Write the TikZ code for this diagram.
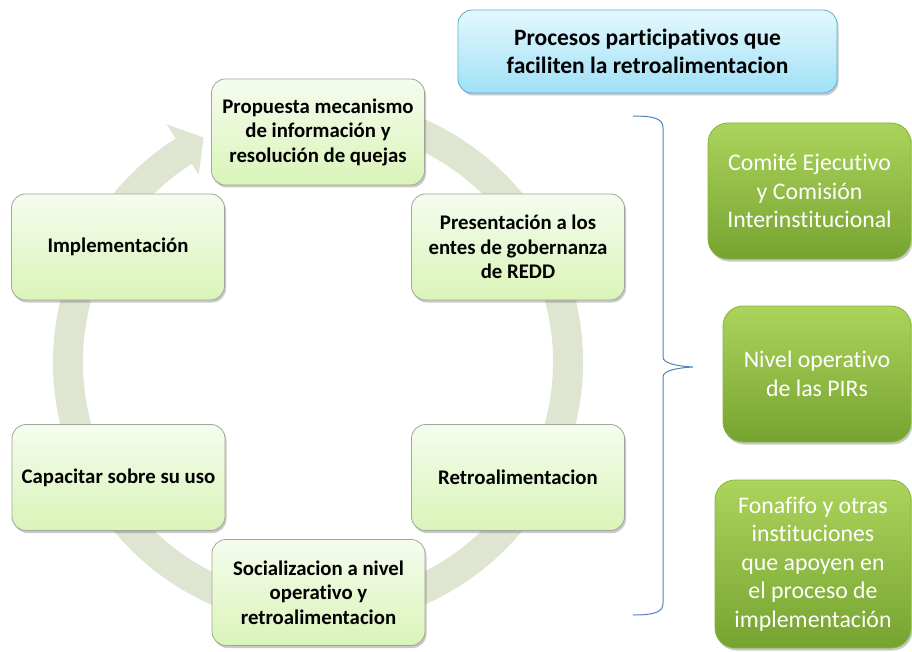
\documentclass[tikz,border=0pt]{standalone}
\usepackage{fontspec}
\setmainfont{Carlito}[Ligatures={NoCommon}]
\usetikzlibrary{shadows,calc}
\definecolor{ringc}{RGB}{222,230,210}
\definecolor{boxborder}{RGB}{160,166,155}
\definecolor{cyctop}{RGB}{245,252,238}
\definecolor{cycbot}{RGB}{218,244,184}
\definecolor{ttop}{RGB}{228,248,254}
\definecolor{tbot}{RGB}{160,224,246}
\definecolor{tborder}{RGB}{95,175,210}
\definecolor{gtop}{RGB}{172,212,92}
\definecolor{gbot}{RGB}{118,163,48}
\definecolor{gborder}{RGB}{135,180,60}
\definecolor{bracec}{RGB}{79,129,189}
\tikzset{
  shad/.style={drop shadow={shadow xshift=1.5pt,shadow yshift=-2.5pt,opacity=0.3,fill=black!70}},
  cyc/.style={shad, draw=boxborder, line width=0.8pt, rounded corners=14pt,
    minimum width=213pt, minimum height=106pt, top color=cyctop, bottom color=cycbot,
    align=center, inner sep=4pt, font=\fontsize{20.8}{24.5}\selectfont\bfseries},
  titlebox/.style={shad, draw=tborder, line width=0.8pt, rounded corners=14pt,
    minimum width=379pt, minimum height=83pt, top color=ttop, bottom color=tbot,
    align=center, font=\fontsize{23.5}{27.5}\selectfont\bfseries},
  gbox/.style={shad, draw=gborder, line width=0.8pt, rounded corners=20pt,
    top color=gtop, bottom color=gbot, text=white,
    align=center, inner sep=2pt, font=\fontsize{23.8}{28.5}\selectfont},
  bracestyle/.style={draw=bracec, line width=1pt}
}
\begin{document}
\begin{tikzpicture}[x=1pt,y=1pt]
\useasboundingbox (0,0) rectangle (912,-652);
\coordinate (c) at (318,-362);
% ring arrow
\draw[ringc, line width=30pt] ($(c)+(80:250pt)$) arc[start angle=80, end angle=-237.7, radius=250pt];
\fill[ringc] ($(c)+(122.5:282pt)$) -- ($(c)+(117:252pt)$) -- ($(c)+(122.5:222pt)$) -- cycle;
% cycle boxes
\node[cyc] (p1) at (318,-132) {Propuesta mecanismo\\de información y\\resolución de quejas};
\node[cyc] (p2) at (518,-247) {Presentación a los\\entes de gobernanza\\de REDD};
\node[cyc] (p3) at (518,-477.5) {Retroalimentacion};
\node[cyc] (p4) at (318.5,-592.5) {Socializacion a nivel\\operativo y\\retroalimentacion};
\node[cyc] (p5) at (118.5,-477.5) {Capacitar sobre su uso};
\node[cyc] (p6) at (118,-247) {Implementación};
% title
\node[titlebox] (t) at (647.5,-51.5) {Procesos participativos que\\faciliten la retroalimentacion};
% brace
\coordinate (b1) at (633,-116);
\coordinate (b2) at (663,-128);
\coordinate (b3) at (663,-357);
\coordinate (bt) at (693,-367);
\coordinate (b4) at (663,-377);
\coordinate (b5) at (663,-603);
\coordinate (b6) at (633,-615);
\draw[bracestyle] (b1) .. controls (655,-116) and (663,-119) .. (b2) -- (b3)
  .. controls (663,-363) and (675,-366) .. (bt)
  .. controls (675,-368) and (663,-371) .. (b4) -- (b5)
  .. controls (663,-612) and (655,-615) .. (b6);
% green boxes
\node[gbox, minimum width=203pt, minimum height=136pt] (g1) at (809.5,-191) {Comité Ejecutivo\\y Comisión\\Interinstitucional};
\node[gbox, minimum width=188pt, minimum height=136pt] (g2) at (817,-374) {Nivel operativo\\de las PIRs};
\node[gbox, minimum width=196pt, minimum height=168pt] (g3) at (813,-564) {Fonafifo y otras\\instituciones\\que apoyen en\\el proceso de\\implementación};
\end{tikzpicture}
\end{document}
